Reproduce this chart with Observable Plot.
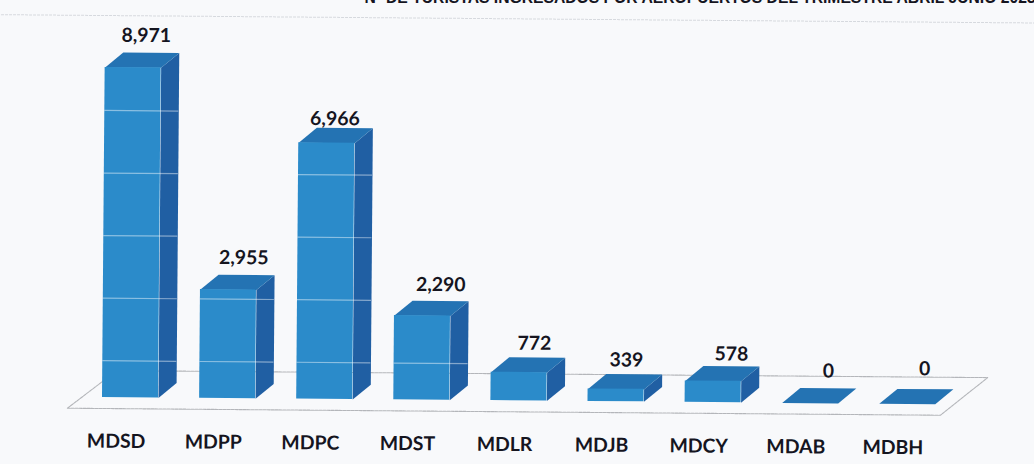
<!DOCTYPE html>
<html>
<head>
<meta charset="utf-8">
<script src="https://cdn.jsdelivr.net/npm/d3@7"></script>
<script src="https://cdn.jsdelivr.net/npm/@observablehq/plot@0.6"></script>
<style>
  html, body { margin: 0; padding: 0; background: #f8f9fb; overflow: hidden; width: 1034px; height: 464px; }
  svg.chart { display: block; overflow: visible !important; background: transparent !important;
    transform: rotate(0.46deg); transform-origin: 102px 397px; }
</style>
</head>
<body>
<script>
// ---- data
const categories = ["MDSD", "MDPP", "MDPC", "MDST", "MDLR", "MDJB", "MDCY", "MDAB", "MDBH"];
const values = [8971, 2955, 6966, 2290, 772, 339, 578, 0, 0];
const gridValues = [1000, 2700, 4400, 6100, 7800];
const title = "Nº DE TURISTAS INGRESADOS POR AEROPUERTOS DEL TRIMESTRE ABRIL JUNIO 2023";

// ---- layout (pixels converted to scale units)
const W = 1034, H = 464;
const slotPx = 97.1, unitPx = 0.0368, x0Px = 102, y0Px = 397;
const u = px => px / slotPx;
const v = px => px / unitPx;
const barW = u(56), depthX = u(18), depthY = v(15);
const labelNudgeX = [-2, 0, -7, 3, 0, -5, 3, 3, 2];
const labelNudgeY = [0, 0, 8, 1, 3, 3, 5, 0, -3];

const rows = categories.map((name, i) => ({name, i, value: values[i]}));

const side = rows.flatMap(d => [
  [d.i + barW, 0], [d.i + barW + depthX, depthY],
  [d.i + barW + depthX, d.value + depthY], [d.i + barW, d.value]
].map(([x, y]) => ({id: d.name, x, y})));

const topFace = rows.flatMap(d => [
  [d.i, d.value], [d.i + depthX, d.value + depthY],
  [d.i + barW + depthX, d.value + depthY], [d.i + barW, d.value]
].map(([x, y]) => ({id: d.name, x, y})));

// gridlines only show through the bars they cross
const gridSegments = rows.flatMap(d =>
  gridValues.filter(g => g < d.value).map(g => ({g, x1: d.i, x2: d.i + barW + depthX}))
);

const toX = px => (px - x0Px) / slotPx;
const toY = px => (y0Px - px) / unitPx;
const floor = [[67, 408], [116, 370], [987, 370], [940, 408]]
  .map(([x, y]) => ({x: toX(x), y: toY(y)}));

const font = "Lato, 'Open Sans', sans-serif";
const ink = "#15151f";

const chart = Plot.plot({
  width: W, height: H,
  marginTop: 0, marginRight: 0, marginBottom: 0, marginLeft: 0,
  className: "chart",
  x: {domain: [toX(0), toX(W)], range: [0, W], axis: null},
  y: {domain: [toY(H), toY(0)], range: [H, 0], axis: null},
  marks: [
    Plot.ruleY([toY(15)], {x1: toX(-10), x2: toX(1044), stroke: "#d6d9de", strokeWidth: 1, strokeDasharray: "3 1"}),
    Plot.line(floor, {x: "x", y: "y", curve: "linear-closed", stroke: "#b4b6ba", strokeWidth: 1.1, strokeDasharray: "3 1", fill: "none"}),
    Plot.line(side, {x: "x", y: "y", z: "id", curve: "linear-closed", fill: "#205fa3", stroke: "none"}),
    Plot.line(topFace, {x: "x", y: "y", z: "id", curve: "linear-closed", fill: "#2473b3", stroke: "none"}),
    Plot.rect(rows, {x1: d => d.i, x2: d => d.i + barW, y1: 0, y2: "value", fill: "#2b8bca"}),
    Plot.ruleY(gridSegments, {y: "g", x1: "x1", x2: "x2", stroke: "#ffffff", strokeOpacity: 0.45, strokeWidth: 1.2}),
    Plot.text(rows, {
      x: d => d.i + u(14), y: toY(441), text: "name",
      fontFamily: font, fontWeight: 700, fontSize: 19.4, fill: ink
    }),
    Plot.text(rows, {
      x: d => d.i + barW / 2 + u(15 + labelNudgeX[d.i]),
      y: d => d.value + depthY + v(17 - labelNudgeY[d.i]),
      text: d => d3.format(",")(d.value),
      fontFamily: font, fontWeight: 700, fontSize: 19.4, fill: ink
    }),
    Plot.text([title], {
      x: toX(1032), y: toY(-4.6), text: d => d, textAnchor: "end", lineAnchor: "bottom", rotate: -0.46,
      fontFamily: "'Liberation Sans', Arial, sans-serif", fontWeight: 700, fontSize: 15.7, fill: ink
    })
  ]
});
document.body.append(chart);
</script>
</body>
</html>
